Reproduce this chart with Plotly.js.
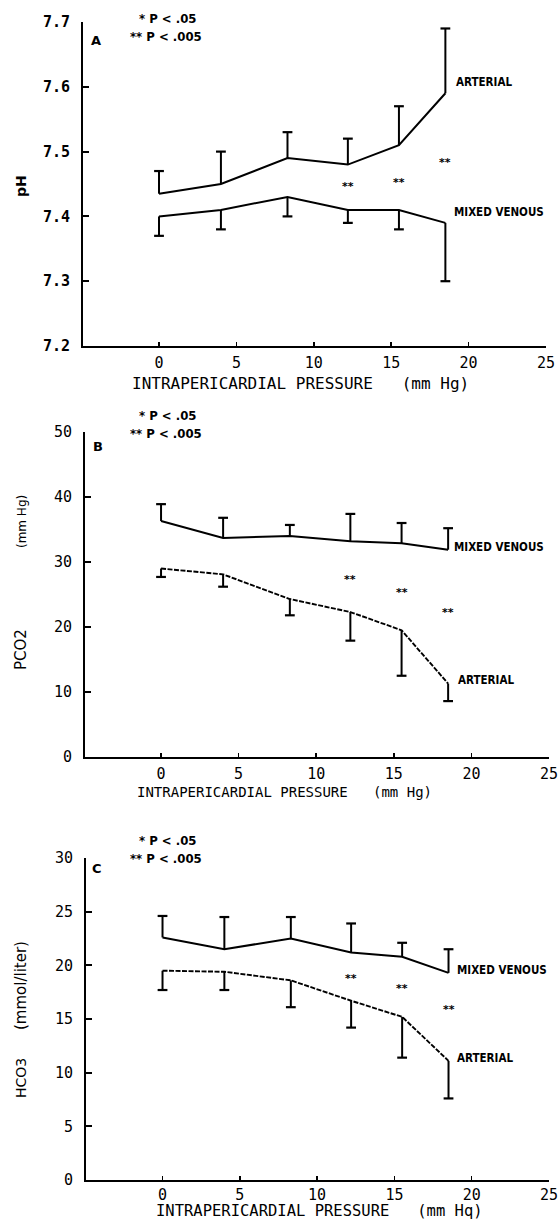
<!DOCTYPE html>
<html><head><meta charset="utf-8">
<script src="https://cdn.plot.ly/plotly-3.0.1.min.js"></script>
<style>html,body{margin:0;padding:0;background:#fff}</style>
</head><body><div id="chart" style="width:558px;height:1221px"></div>
<script>
// ---- data ----
const pressure = [0, 4, 8.3, 12.2, 15.5, 18.5];

const phArterial   = [7.435, 7.45, 7.49, 7.48, 7.51, 7.59];
const phArterialSD = [0.035, 0.05, 0.04, 0.04, 0.06, 0.10];
const phVenous     = [7.40, 7.41, 7.43, 7.41, 7.41, 7.39];
const phVenousSD   = [0.03, 0.03, 0.03, 0.02, 0.03, 0.09];

const pco2Venous     = [36.3, 33.7, 34.0, 33.2, 32.9, 31.9];
const pco2VenousSD   = [2.6, 3.1, 1.7, 4.2, 3.1, 3.3];
const pco2Arterial   = [29.0, 28.1, 24.3, 22.3, 19.5, 11.3];
const pco2ArterialSD = [1.3, 1.9, 2.5, 4.4, 7.0, 2.7];

const hco3Venous     = [22.6, 21.5, 22.5, 21.2, 20.8, 19.3];
const hco3VenousSD   = [2.0, 3.0, 2.0, 2.7, 1.3, 2.2];
const hco3Arterial   = [19.5, 19.4, 18.6, 16.7, 15.2, 11.1];
const hco3ArterialSD = [1.8, 1.7, 2.5, 2.5, 3.8, 3.5];

const starPressure = [12.2, 15.5, 18.5];
const phStars   = [7.45, 7.456, 7.486];
const pco2Stars = [27.6, 25.6, 22.6];
const hco3Stars = [19.0, 18.0, 16.05];
const starText = '**';

const xTicks = [0, 5, 10, 15, 20, 25];
const phTicks = [7.2, 7.3, 7.4, 7.5, 7.6, 7.7];
const phTickText = ['7.2', '7.3', '7.4', '7.5', '7.6', '7.7'];
const pco2Ticks = [0, 10, 20, 30, 40, 50];
const hco3Ticks = [0, 5, 10, 15, 20, 25, 30];

const xTitle = 'INTRAPERICARDIAL PRESSURE\u00a0\u00a0 (mm Hg)';
const xTitleC = 'INTRAPERICARDIAL PRESSURE\u00a0\u00a0 (mm Hq)';
const legend1 = '* P < .05';
const legend2 = '** P < .005';

// ---- helpers ----
const BLACK = '#000';
const NARROW = 'Liberation Sans Narrow, DejaVu Sans Condensed, Arial Narrow, sans-serif';
const MONO = 'DejaVu Sans Mono, Liberation Mono, monospace';
const SANS = 'DejaVu Sans, Liberation Sans, sans-serif';
const W = 558, H = 1221;
const px = v => v / W;
const py = v => 1 - v / H;

function series(x, y, sd, dir, xa, ya, dash, width) {
  const sx = [], sy = [], cx = [], cy = [];
  x.forEach((xi, i) => {
    const end = y[i] + dir * sd[i];
    sx.push(xi, xi, null); sy.push(y[i], end, null);
    cx.push(xi); cy.push(end);
  });
  return [
    {x: x, y: y, xaxis: xa, yaxis: ya, type: 'scatter', mode: 'lines',
     line: {color: BLACK, width: width, dash: dash}, hoverinfo: 'skip'},
    {x: sx, y: sy, xaxis: xa, yaxis: ya, type: 'scatter', mode: 'lines',
     line: {color: BLACK, width: 2}, hoverinfo: 'skip'},
    {x: cx, y: cy, xaxis: xa, yaxis: ya, type: 'scatter', mode: 'markers',
     marker: {symbol: 'line-ew', size: 7, color: BLACK, line: {color: BLACK, width: 2.2}}, hoverinfo: 'skip'}
  ];
}

const traces = [].concat(
  series(pressure, phArterial, phArterialSD, 1, 'x', 'y', 'solid', 2),
  series(pressure, phVenous, phVenousSD, -1, 'x', 'y', 'solid', 2),
  series(pressure, pco2Venous, pco2VenousSD, 1, 'x2', 'y2', 'solid', 2),
  series(pressure, pco2Arterial, pco2ArterialSD, -1, 'x2', 'y2', '5px,1.5px', 1.9),
  series(pressure, hco3Venous, hco3VenousSD, 1, 'x3', 'y3', 'solid', 2),
  series(pressure, hco3Arterial, hco3ArterialSD, -1, 'x3', 'y3', '5px,1.5px', 1.9)
);

function xAxis(domain, range, anchor, standoff) {
  return {domain: domain, range: range, anchor: anchor, showline: true, linecolor: BLACK, linewidth: 1.5,
    ticks: 'inside', ticklen: 4, tickwidth: 1.5, tickcolor: BLACK, tickvals: xTicks,
    ticktext: xTicks.map(String), showgrid: false, zeroline: false, ticklabelstandoff: standoff,
    ticklabeloverflow: 'allow',
    tickfont: {family: MONO, size: 15, color: BLACK}, fixedrange: true};
}
function yAxis(domain, range, anchor, vals, text, bold) {
  return {domain: domain, range: range, anchor: anchor, showline: true, linecolor: BLACK, linewidth: 2,
    ticks: 'inside', ticklen: 6, tickwidth: 2, tickcolor: BLACK, tickvals: vals, ticktext: text,
    showgrid: false, zeroline: false, ticklabelstandoff: 8, ticklabeloverflow: 'allow',
    tickfont: {family: MONO, size: 15, color: BLACK, weight: bold ? 'bold' : 'normal'}, fixedrange: true};
}

function label(text, x, y, opts) {
  return Object.assign({text: text, x: px(x), y: py(y), xref: 'paper', yref: 'paper',
    showarrow: false, xanchor: 'left', yanchor: 'middle',
    font: {family: NARROW, size: 13, color: BLACK, weight: 'bold'}}, opts || {});
}
function curveLabel(text, x, y) {
  return label(text, x, y, {font: {family: NARROW, size: 11.5, color: BLACK, weight: 'bold'}});
}
function stars(ys, xa, ya) {
  return starPressure.map((xv, i) => ({text: starText, x: xv, y: ys[i], xref: xa, yref: ya,
    showarrow: false, xanchor: 'center', yanchor: 'middle', yshift: -2,
    font: {family: SANS, size: 11, color: BLACK, weight: 'bold'}}));
}
function vtitle(text, x, y, size, weight) {
  return {text: text, x: px(x), y: py(y), xref: 'paper', yref: 'paper', showarrow: false,
    textangle: -90, xanchor: 'center', yanchor: 'middle',
    font: {family: SANS, size: size, color: BLACK, weight: weight || 'normal'}};
}
function htitle(text, x, y, size) {
  return {text: text, x: px(x), y: py(y), xref: 'paper', yref: 'paper', showarrow: false,
    xanchor: 'center', yanchor: 'middle', font: {family: MONO, size: size, color: BLACK}};
}

const annotations = [].concat(
  // panel A
  [label(legend1, 137, 18), label(legend2, 128, 37),
   label('A', 89, 40, {font: {family: SANS, size: 13, color: BLACK, weight: 'bold'}}),
   curveLabel('ARTERIAL', 454, 82), curveLabel('MIXED VENOUS', 452, 212),
   vtitle('pH', 21, 186, 14, 'bold'),
   htitle(xTitle, 300, 384, 16)],
  stars(phStars, 'x', 'y'),
  // panel B
  [label(legend1, 137, 415), label(legend2, 128, 433),
   label('B', 91, 447, {font: {family: SANS, size: 13, color: BLACK, weight: 'bold'}}),
   curveLabel('MIXED VENOUS', 452, 547), curveLabel('ARTERIAL', 456, 680),
   vtitle('PCO2', 21, 650, 15), vtitle('(mm Hg)', 22, 522, 12),
   htitle(xTitle, 284, 792, 14)],
  stars(pco2Stars, 'x2', 'y2'),
  // panel C
  [label(legend1, 137, 840), label(legend2, 128, 858),
   label('C', 90, 868, {font: {family: SANS, size: 13, color: BLACK, weight: 'bold'}}),
   curveLabel('MIXED VENOUS', 455, 970), curveLabel('ARTERIAL', 455, 1058),
   vtitle('HCO3', 21, 1078, 14), vtitle('(mmol/liter)', 21, 986, 15),
   htitle(xTitleC, 319, 1211, 15.5)],
  stars(hco3Stars, 'x3', 'y3')
);

const layout = {
  width: W, height: H, margin: {l: 0, r: 0, t: 0, b: 0},
  paper_bgcolor: '#fff', plot_bgcolor: '#fff', showlegend: false,
  xaxis: xAxis([px(83), px(546)], [-4.91, 25], 'y', 2),
  yaxis: yAxis([py(346), py(22)], [7.2, 7.7], 'x', phTicks, phTickText, true),
  xaxis2: xAxis([px(85), px(549)], [-4.9, 25], 'y2', 2),
  yaxis2: yAxis([py(757), py(432)], [0, 50], 'x2', pco2Ticks, pco2Ticks.map(String), false),
  xaxis3: xAxis([px(86), px(549)], [-4.95, 25], 'y3', 0),
  yaxis3: yAxis([py(1180), py(858)], [0, 30], 'x3', hco3Ticks, hco3Ticks.map(String), false),
  annotations: annotations
};

Plotly.newPlot('chart', traces, layout, {displayModeBar: false, staticPlot: true});
</script>
</body></html>
